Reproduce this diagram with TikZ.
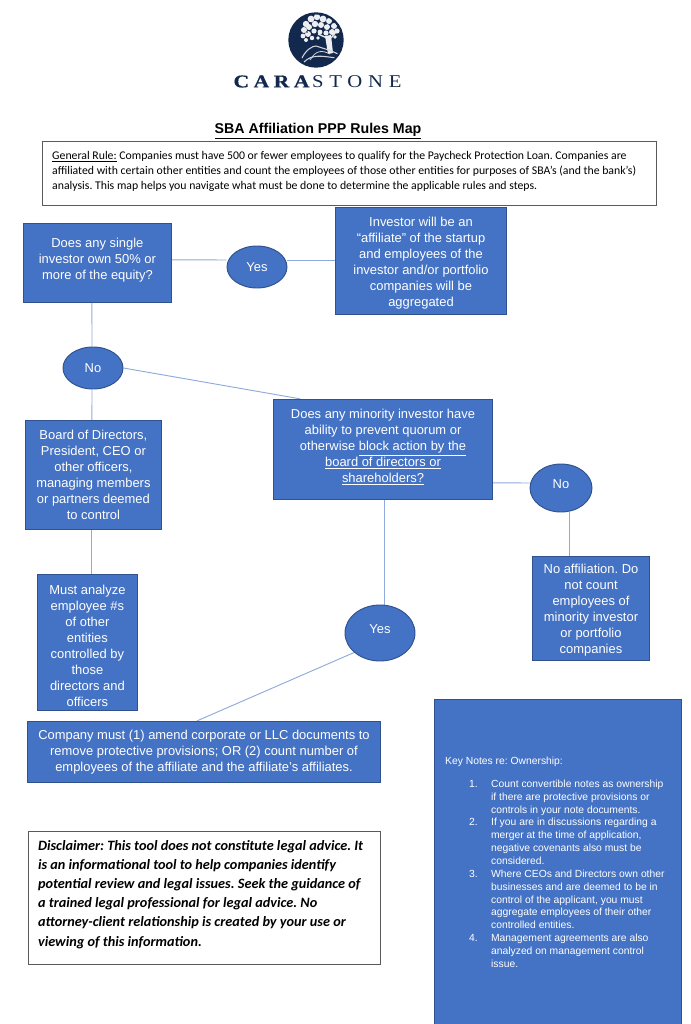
\documentclass[tikz,border=0pt]{standalone}
\usepackage{fontspec}
\usetikzlibrary{shapes.geometric,backgrounds}
\setmainfont{Liberation Sans}
\newfontfamily\carlito{Carlito}
\newfontfamily\logoA[LetterSpace=25,FakeStretch=1.2,FakeBold=0.8]{Liberation Serif Bold}
\newfontfamily\logoB[LetterSpace=32,FakeStretch=1.15]{Liberation Serif}
\definecolor{bluefill}{HTML}{4472C4}
\definecolor{blueline}{HTML}{2F528F}
\definecolor{conn}{HTML}{8FAADC}
\definecolor{navy}{HTML}{12284C}
\definecolor{framegray}{HTML}{5A5A5A}
\newcommand{\keyline}[2]{\hspace*{18pt}\makebox[16.5pt][l]{#1}#2}
\newcommand{\padtop}[1]{\rule{0pt}{#1}}
\newcommand{\padbot}[1]{\rule[-#1]{0pt}{#1}}
\newcommand{\leftblock}[2]{\makebox[#1][l]{\begin{tabular}{@{}l@{}}#2\end{tabular}}}
\begin{document}
\frenchspacing
\begin{tikzpicture}[x=0.75pt,y=-0.75pt,
  bluebox/.style={draw=blueline,line width=0.7pt,fill=bluefill,text=white,rectangle,inner sep=0pt,align=center,font=\fontsize{9.7}{12}\selectfont},
  bluecirc/.style={draw=blueline,line width=0.7pt,fill=bluefill,text=white,ellipse,inner sep=0pt,align=center,font=\fontsize{9.7}{12}\selectfont},
  notebox/.style={draw=framegray,line width=0.6pt,fill=white,rectangle,inner sep=0pt},
  link/.style={draw=conn,line width=0.7pt}]
\useasboundingbox (0,0) rectangle (690,1024);

% logo
\fill[navy] (316,40) circle (27.7);
\begin{scope}
\clip (316,40) circle (25.5);
\foreach \a/\b/\r in {306/24/3.2,311/19/3.4,317/17/3.2,323/19/3.4,329/21/3,334/26/3,337/31/2.6,304/30/3,309/27/3,315/24/3.2,321/25/3,327/27/3,332/32/3,303/36/2.4,308/34/3,314/31/2.6,320/32/2.4,326/33/2.6,306/40/2,312/38/2.2,318/38/1.8,335/37/1.8}
  \fill[white!92!navy] (\a,\b) circle (\r);
\foreach \a/\b in {310/23,318/21,326/24,313/28,322/29,307/32,330/29,316/35}
  \fill[navy] (\a,\b) circle (0.9);
\fill[white!92!navy] (325,36) -- (331,35) -- (333,53) -- (328,54) -- cycle;
\draw[white!92!navy,line width=1pt] (327,38) -- (318,34);
\draw[white!92!navy,line width=1pt] (331,38) -- (336,32);
\draw[white!80!navy,line width=0.8pt] (302,58) .. controls (306,50) and (312,46) .. (316,46) .. controls (322,48) and (330,50) .. (338,54);
\draw[white!80!navy,line width=0.8pt] (304,62) .. controls (312,54) and (322,56) .. (336,58);
\draw[white!80!navy,line width=0.6pt] (310,60) .. controls (316,50) and (322,50) .. (330,54);
\end{scope}
\node[text=navy,inner sep=0pt,font=\fontsize{13.5}{14}\selectfont] (logotext) at (317.5,81.5) {{\logoA CARA}\hspace{2pt}{\logoB STONE}};

% title
\node[inner sep=0pt,font=\bfseries\fontsize{10.65}{12}\selectfont] (title) at (318,131.5) {\underline{SBA Affiliation PPP Rules Map}};

% general rule
\node[notebox,minimum width=460.75pt,minimum height=48.25pt,anchor=north west,font=\carlito\fontsize{8.83}{11.25}\selectfont] (rule) at (42,141) {\leftblock{446pt}{\underline{General Rule:} Companies must have 500 or fewer employees to qualify for the Paycheck Protection Loan. Companies are\\affiliated with certain other entities and count the employees of those other entities for purposes of SBA’s (and the bank’s)\\analysis. This map helps you navigate what must be done to determine the applicable rules and steps.\padbot{7pt}}};

% flow nodes
\node[bluebox,minimum width=111.25pt,minimum height=59.5pt] (q1) at (97.4,262.8) {Does any single\\investor own 50\% or\\more of the equity?\padbot{6.6pt}};
\node[bluecirc,minimum width=45pt,minimum height=31.5pt] (yes1) at (257,267) {Yes};
\node[bluebox,minimum width=128.5pt,minimum height=80.5pt] (aff) at (421,261) {\padtop{11pt}Investor will be an\\“affiliate” of the startup\\and employees of the\\investor and/or portfolio\\companies will be\\aggregated};
\node[bluecirc,minimum width=45pt,minimum height=31.5pt] (no1) at (93,368) {No};
\node[bluebox,minimum width=102.25pt,minimum height=82pt] (board) at (93.4,475) {Board of Directors,\\President, CEO or\\other officers,\\managing members\\or partners deemed\\to control};
\node[bluebox,minimum width=75.25pt,minimum height=102.25pt] (must) at (87.4,642.5) {\padtop{11.7pt}Must analyze\\employee \#s\\of other\\entities\\controlled by\\those\\directors and\\officers};
\node[bluebox,minimum width=164.5pt,minimum height=75.25pt] (minor) at (383,449.5) {Does any minority investor have\\ability to prevent quorum or\\otherwise \underline{block action by the}\\\underline{board of directors or}\\\underline{shareholders?}\padbot{5.9pt}};
\node[bluecirc,minimum width=46.5pt,minimum height=36pt] (no2) at (561,488) {\padbot{6pt}No};
\node[bluebox,minimum width=88pt,minimum height=78.25pt] (noaff) at (591,608.5) {\padtop{10.2pt}No affiliation. Do\\not count\\employees of\\minority investor\\or portfolio\\companies};
\node[bluecirc,minimum width=52.5pt,minimum height=42pt] (yes2) at (380,633) {\padbot{6.6pt}Yes};
\node[bluebox,minimum width=265pt,minimum height=46pt] (company) at (204,752) {Company must (1) amend corporate or LLC documents to\\remove protective provisions; OR (2) count number of\\employees of the affiliate and the affiliate’s affiliates.};

% disclaimer
\node[notebox,minimum width=264.25pt,minimum height=100pt,anchor=north west,font=\carlito\bfseries\itshape\fontsize{10.7}{14.4}\selectfont] (disc) at (28,831) {\leftblock{249.75pt}{Disclaimer: This tool does not constitute legal advice. It\\is an informational tool to help companies identify\\potential review and legal issues. Seek the guidance of\\a trained legal professional for legal advice. No\\attorney-client relationship is created by your use or\\viewing of this information.\padbot{10pt}}};

% key notes
\node[bluebox,minimum width=185.5pt,minimum height=246pt,anchor=north west,font=\fontsize{7.75}{9.65}\selectfont] (keynotes) at (434,699) {\leftblock{169.5pt}{Key Notes re: Ownership:\\[7.3pt]
\keyline{1.}{Count convertible notes as ownership}\\
\keyline{}{if there are protective provisions or}\\
\keyline{}{controls in your note documents.}\\
\keyline{2.}{If you are in discussions regarding a}\\
\keyline{}{merger at the time of application,}\\
\keyline{}{negative covenants also must be}\\
\keyline{}{considered.}\\
\keyline{3.}{Where CEOs and Directors own other}\\
\keyline{}{businesses and are deemed to be in}\\
\keyline{}{control of the applicant, you must}\\
\keyline{}{aggregate employees of their other}\\
\keyline{}{controlled entities.}\\
\keyline{4.}{Management agreements are also}\\
\keyline{}{analyzed on management control}\\
\keyline{}{issue.}}};

% connectors, behind the shapes
\begin{scope}[on background layer]
\draw[link] ([yshift=2.25pt]q1.east) -- ([yshift=5.25pt]yes1.west);
\draw[link] ([yshift=5.25pt]yes1.east) -- ([yshift=0.75pt]aff.west);
\draw[link] ([xshift=-4.1pt]q1.south) -- ([xshift=-0.75pt]no1.north);
\draw[link] ([xshift=-0.75pt]no1.south) -- ([xshift=-1.1pt]board.north);
\draw[link] ([xshift=-1.1pt]board.south) -- ([xshift=3.4pt]must.north);
\draw[link] (no1.east) -- ([xshift=-62pt]minor.north);
\draw[link] ([yshift=-25pt]minor.east) -- ([yshift=3.75pt]no2.west);
\draw[link] ([xshift=6pt]no2.south) -- ([xshift=-16.5pt]noaff.north);
\draw[link] ([xshift=0.75pt]minor.south) -- ([xshift=3pt]yes2.north);
\draw[link] (yes2.217) -- ([xshift=-5.25pt]company.north);
\end{scope}
\end{tikzpicture}
\end{document}
